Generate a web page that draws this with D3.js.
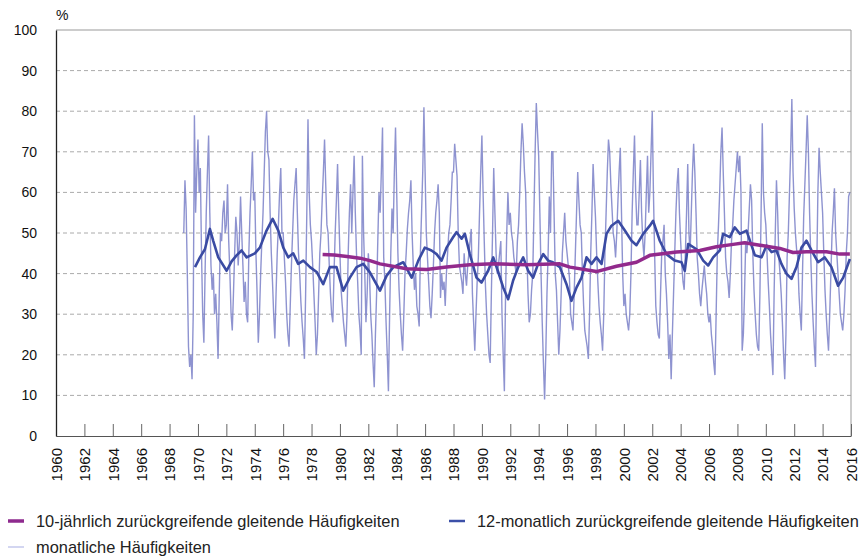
<!DOCTYPE html>
<meta charset="utf-8">
<html>
<head>
<script src="https://d3js.org/d3.v7.min.js"></script>
<style>
  body { margin: 0; background: #fff; }
  svg { font-family: "Liberation Sans", Arial, sans-serif; }
  .grid line { stroke: #aaa; stroke-dasharray: 4,3; }
  .legend text { font-size: 16.4px; fill: #222; }
</style>
</head>
<body>
<svg width="864" height="559"></svg>
<script>

// monthly values, one row per year, Jan..Dec, first row = 1969
var startYear = 1969;
var monthly = [
  [50, 63, 56, 40, 22, 17, 20, 14, 30, 79, 55, 65],
  [73, 60, 66, 45, 30, 23, 40, 55, 65, 74, 55, 42],
  [36, 40, 30, 35, 28, 19, 35, 50, 48, 55, 58, 50],
  [52, 62, 48, 40, 30, 26, 35, 45, 54, 50, 42, 48],
  [59, 50, 42, 33, 38, 30, 28, 45, 55, 62, 70, 58],
  [60, 45, 35, 23, 30, 40, 48, 55, 65, 75, 80, 70],
  [68, 55, 45, 38, 30, 24, 35, 45, 52, 60, 66, 50],
  [50, 44, 38, 30, 25, 22, 32, 42, 50, 58, 62, 66],
  [55, 45, 40, 33, 28, 24, 19, 35, 55, 78, 60, 52],
  [48, 42, 35, 28, 20, 25, 35, 45, 50, 58, 65, 73],
  [62, 52, 50, 42, 35, 30, 28, 40, 50, 58, 67, 55],
  [45, 36, 32, 28, 25, 22, 30, 45, 55, 62, 50, 60],
  [69, 55, 45, 38, 30, 26, 20, 69, 50, 40, 28, 35],
  [45, 40, 30, 25, 18, 12, 25, 35, 48, 60, 55, 65],
  [76, 44, 38, 28, 20, 11, 30, 45, 56, 50, 65, 76],
  [60, 45, 36, 30, 25, 21, 30, 40, 45, 51, 55, 58],
  [63, 50, 42, 36, 40, 32, 30, 27, 45, 55, 65, 81],
  [65, 50, 44, 38, 32, 29, 35, 42, 50, 55, 58, 62],
  [55, 34, 40, 36, 38, 32, 40, 45, 50, 52, 58, 65],
  [65, 72, 68, 64, 50, 42, 40, 38, 35, 45, 40, 37],
  [42, 45, 48, 51, 35, 28, 21, 30, 38, 44, 55, 65],
  [74, 60, 48, 37, 30, 25, 20, 18, 35, 50, 66, 55],
  [45, 40, 42, 45, 48, 30, 20, 11, 35, 50, 60, 52],
  [55, 50, 48, 44, 42, 40, 48, 52, 60, 70, 77, 72],
  [65, 60, 45, 35, 28, 30, 36, 40, 55, 70, 82, 75],
  [69, 55, 40, 28, 18, 9, 20, 35, 45, 59, 50, 70],
  [70, 55, 40, 36, 28, 20, 26, 35, 45, 50, 55, 48],
  [45, 42, 39, 30, 28, 26, 35, 45, 55, 65, 58, 52],
  [50, 40, 32, 26, 24, 22, 19, 30, 45, 55, 67, 60],
  [54, 45, 38, 32, 28, 25, 21, 30, 45, 55, 65, 73],
  [70, 62, 56, 50, 48, 44, 50, 58, 65, 71, 55, 40],
  [32, 35, 30, 28, 26, 30, 40, 55, 65, 74, 60, 52],
  [52, 60, 68, 55, 48, 44, 50, 60, 69, 55, 60, 70],
  [80, 60, 45, 32, 28, 25, 24, 35, 45, 48, 52, 40],
  [35, 28, 19, 25, 14, 25, 35, 45, 55, 62, 66, 55],
  [48, 42, 38, 36, 45, 55, 67, 50, 45, 55, 65, 72],
  [65, 55, 44, 40, 35, 32, 36, 39, 42, 38, 35, 30],
  [28, 30, 25, 22, 18, 15, 30, 45, 52, 60, 70, 76],
  [65, 55, 44, 40, 38, 34, 40, 48, 52, 58, 62, 66],
  [70, 65, 69, 60, 21, 25, 35, 48, 45, 50, 56, 62],
  [58, 45, 36, 30, 25, 22, 21, 35, 55, 77, 60, 55],
  [52, 45, 38, 32, 25, 20, 15, 35, 50, 63, 55, 44],
  [40, 35, 28, 20, 14, 25, 44, 50, 60, 70, 83, 65],
  [56, 50, 46, 44, 35, 30, 26, 40, 54, 62, 70, 79],
  [70, 55, 44, 35, 28, 22, 17, 40, 60, 71, 65, 60],
  [55, 45, 36, 30, 25, 21, 30, 40, 50, 55, 61, 50],
  [45, 40, 35, 30, 28, 26, 30, 36, 45, 50, 59, 60]
];

// 12-month moving series, read at irregular points (decimal year, %)
var ma12Years = [1969.79, 1970.14, 1970.49, 1970.84, 1971.08, 1971.43, 1972.02, 1972.37, 1972.72, 1973.07,
  1973.43, 1974.01, 1974.36, 1974.83, 1975.26, 1975.66, 1976.01, 1976.36, 1976.71, 1977.06,
  1977.42, 1977.89, 1978.36, 1978.82, 1979.29, 1979.76, 1980.23, 1980.70, 1981.17, 1981.64,
  1982.11, 1982.82, 1983.29, 1983.76, 1984.46, 1985.05, 1985.52, 1985.98, 1986.45, 1986.81,
  1987.16, 1987.51, 1987.98, 1988.21, 1988.57, 1988.80, 1989.15, 1989.62, 1989.97, 1990.44,
  1990.80, 1991.15, 1991.50, 1991.85, 1992.20, 1992.56, 1992.91, 1993.26, 1993.61, 1993.96,
  1994.32, 1994.67, 1995.00, 1995.49, 1995.96, 1996.31, 1996.67, 1997.02, 1997.37, 1997.72,
  1998.07, 1998.43, 1998.78, 1999.13, 1999.60, 2000.07, 2000.54, 2000.89, 2001.36, 2001.83,
  2002.06, 2002.53, 2003.00, 2003.59, 2004.06, 2004.29, 2004.53, 2005.12, 2005.59, 2005.94,
  2006.29, 2006.76, 2006.99, 2007.46, 2007.81, 2008.17, 2008.64, 2009.23, 2009.70, 2010.05,
  2010.40, 2010.75, 2011.10, 2011.45, 2011.81, 2012.16, 2012.51, 2012.86, 2013.22, 2013.68,
  2014.15, 2014.62, 2015.09, 2015.45, 2015.92];
var ma12Values = [41.6, 44, 46, 51, 48, 44, 40.7, 43, 44.5, 45.7,
  44, 45, 46.4, 50.6, 53.5, 50.6, 46.4, 44, 45, 42.4,
  43.2, 41.6, 40.4, 37.4, 41.6, 41.6, 35.8, 39, 41.6, 42.4,
  40.3, 35.8, 39.5, 41.6, 42.8, 39, 43.2, 46.4, 45.7, 44.8,
  43.2, 46.4, 49, 50.2, 48.6, 49.8, 44.8, 39, 37.8, 40.7,
  44, 40.4, 36.6, 33.7, 38.3, 41.6, 44, 40.7, 39, 42.4,
  44.8, 43.2, 42.8, 41.6, 37.4, 33.3, 36.6, 39, 44, 42.4,
  44, 42.4, 49.8, 51.8, 53, 50.6, 48.1, 47, 49.8, 51.8,
  53, 48.1, 44.8, 43.2, 42.8, 40.7, 47.3, 46, 43.2, 42,
  44, 45.7, 49.8, 49, 51.4, 49.8, 50.6, 44.5, 44, 46.9,
  45.3, 45.7, 42.4, 40, 38.7, 41.6, 46.4, 48.1, 45.7, 42.8,
  44, 41.6, 37, 39, 43.6];

// 10-year moving series
var ma10Years = [1978.78, 1979.6, 1980.5, 1981.41, 1982.11, 1982.82, 1984.69, 1986.10, 1987.51, 1989.15,
  1990.80, 1993.14, 1995.49, 1996.20, 1998.07, 1999.48, 2000.89, 2001.83, 2003.71, 2005.35,
  2006.52, 2007.70, 2008.50, 2009.58, 2010.99, 2011.92, 2012.86, 2014.27, 2015.21, 2015.92];
var ma10Values = [44.7, 44.6, 44.2, 43.8, 43.2, 42.4, 41.2, 41, 41.6, 42.2,
  42.4, 42.2, 42.4, 41.6, 40.5, 41.8, 42.8, 44.5, 45.3, 45.7,
  46.6, 47.2, 47.6, 47, 46.2, 45.2, 45.4, 45.4, 44.8, 44.8];

var yTicks = [0, 10, 20, 30, 40, 50, 60, 70, 80, 90, 100];
var xTicks = d3.range(1960, 2017, 2);

var legendItems = [
  {label: "10-jährlich zurückgreifende gleitende Häufigkeiten", color: "#8e2a8e", width: 3.5},
  {label: "12-monatlich zurückgreifende gleitende Häufigkeiten", color: "#3c50a8", width: 2.5},
  {label: "monatliche Häufigkeiten", color: "#c5c8ec", width: 1.5}
];

var svg = d3.select("svg"),
    margin = {top: 30, right: 13, bottom: 123, left: 56},
    width = +svg.attr("width"),
    height = +svg.attr("height");

var x = d3.scaleLinear()
    .domain([1960, 2016])
    .range([margin.left, width - margin.right]);

var y = d3.scaleLinear()
    .domain([0, 100])
    .range([height - margin.bottom, margin.top]);

var monthlyData = [];
monthly.forEach(function(row, i) {
  row.forEach(function(v, m) {
    monthlyData.push({t: startYear + i + m / 12, v: v});
  });
});
var ma12Data = ma12Years.map(function(t, i) { return {t: t, v: ma12Values[i]}; });
var ma10Data = ma10Years.map(function(t, i) { return {t: t, v: ma10Values[i]}; });

var line = d3.line()
    .x(function(d) { return x(d.t); })
    .y(function(d) { return y(d.v); });

// grid
svg.append("g")
    .attr("class", "grid")
  .selectAll("line")
  .data(yTicks.filter(function(d) { return d > 0 && d < 100; }))
  .enter().append("line")
    .attr("x1", x.range()[0])
    .attr("x2", x.range()[1])
    .attr("y1", function(d) { return y(d); })
    .attr("y2", function(d) { return y(d); });

// frame
svg.append("path")
    .attr("fill", "none")
    .attr("stroke", "#999")
    .attr("d", "M" + x.range()[0] + "," + y(100) + "H" + x.range()[1] + "V" + y(0));

svg.append("path")
    .datum(monthlyData)
    .attr("fill", "none")
    .attr("stroke", "#7a80c8")
    .attr("stroke-width", 1.4)
    .attr("stroke-opacity", 0.85)
    .attr("d", line);

svg.append("path")
    .datum(ma12Data)
    .attr("fill", "none")
    .attr("stroke", "#3a4ba3")
    .attr("stroke-width", 2.6)
    .attr("stroke-linejoin", "round")
    .attr("d", line);

svg.append("path")
    .datum(ma10Data)
    .attr("fill", "none")
    .attr("stroke", "#922a8c")
    .attr("stroke-width", 3.5)
    .attr("stroke-linejoin", "round")
    .attr("d", line);

// axes
var xAxis = svg.append("g")
    .attr("transform", "translate(0," + y(0) + ")")
    .call(d3.axisBottom(x).tickValues(xTicks).tickFormat(d3.format("d")).tickSizeInner(-12).tickSizeOuter(0).tickPadding(0));
xAxis.select(".domain").attr("stroke", "#555");
xAxis.selectAll(".tick line").attr("stroke", "#666");
xAxis.selectAll(".tick text")
    .attr("font-size", 15)
    .attr("fill", "#111")
    .attr("text-anchor", "end")
    .attr("transform", "translate(0,12) rotate(-90)")
    .attr("x", 0)
    .attr("y", 0)
    .attr("dy", "0.35em");

var yAxis = svg.append("g")
    .attr("transform", "translate(" + x.range()[0] + ",0)")
    .call(d3.axisLeft(y).tickValues(yTicks).tickSize(0).tickPadding(19));
yAxis.select(".domain").attr("stroke", "#222").attr("stroke-width", 1.3);
yAxis.selectAll(".tick text").attr("font-size", 14).attr("fill", "#111");

svg.append("text")
    .attr("x", x.range()[0])
    .attr("y", 20)
    .attr("font-size", 14)
    .attr("fill", "#111")
    .text("%");

// legend
var legendPos = [[8, 521], [449, 521], [8, 547]];
var legend = svg.append("g")
    .attr("class", "legend")
  .selectAll("g")
  .data(legendItems)
  .enter().append("g")
    .attr("transform", function(d, i) { return "translate(" + legendPos[i][0] + "," + legendPos[i][1] + ")"; });

legend.append("line")
    .attr("x1", 0)
    .attr("x2", 16)
    .attr("stroke", function(d) { return d.color; })
    .attr("stroke-width", function(d) { return d.width; });

legend.append("text")
    .attr("x", 28)
    .attr("dy", "0.35em")
    .text(function(d) { return d.label; });

</script>
</body>
</html>
